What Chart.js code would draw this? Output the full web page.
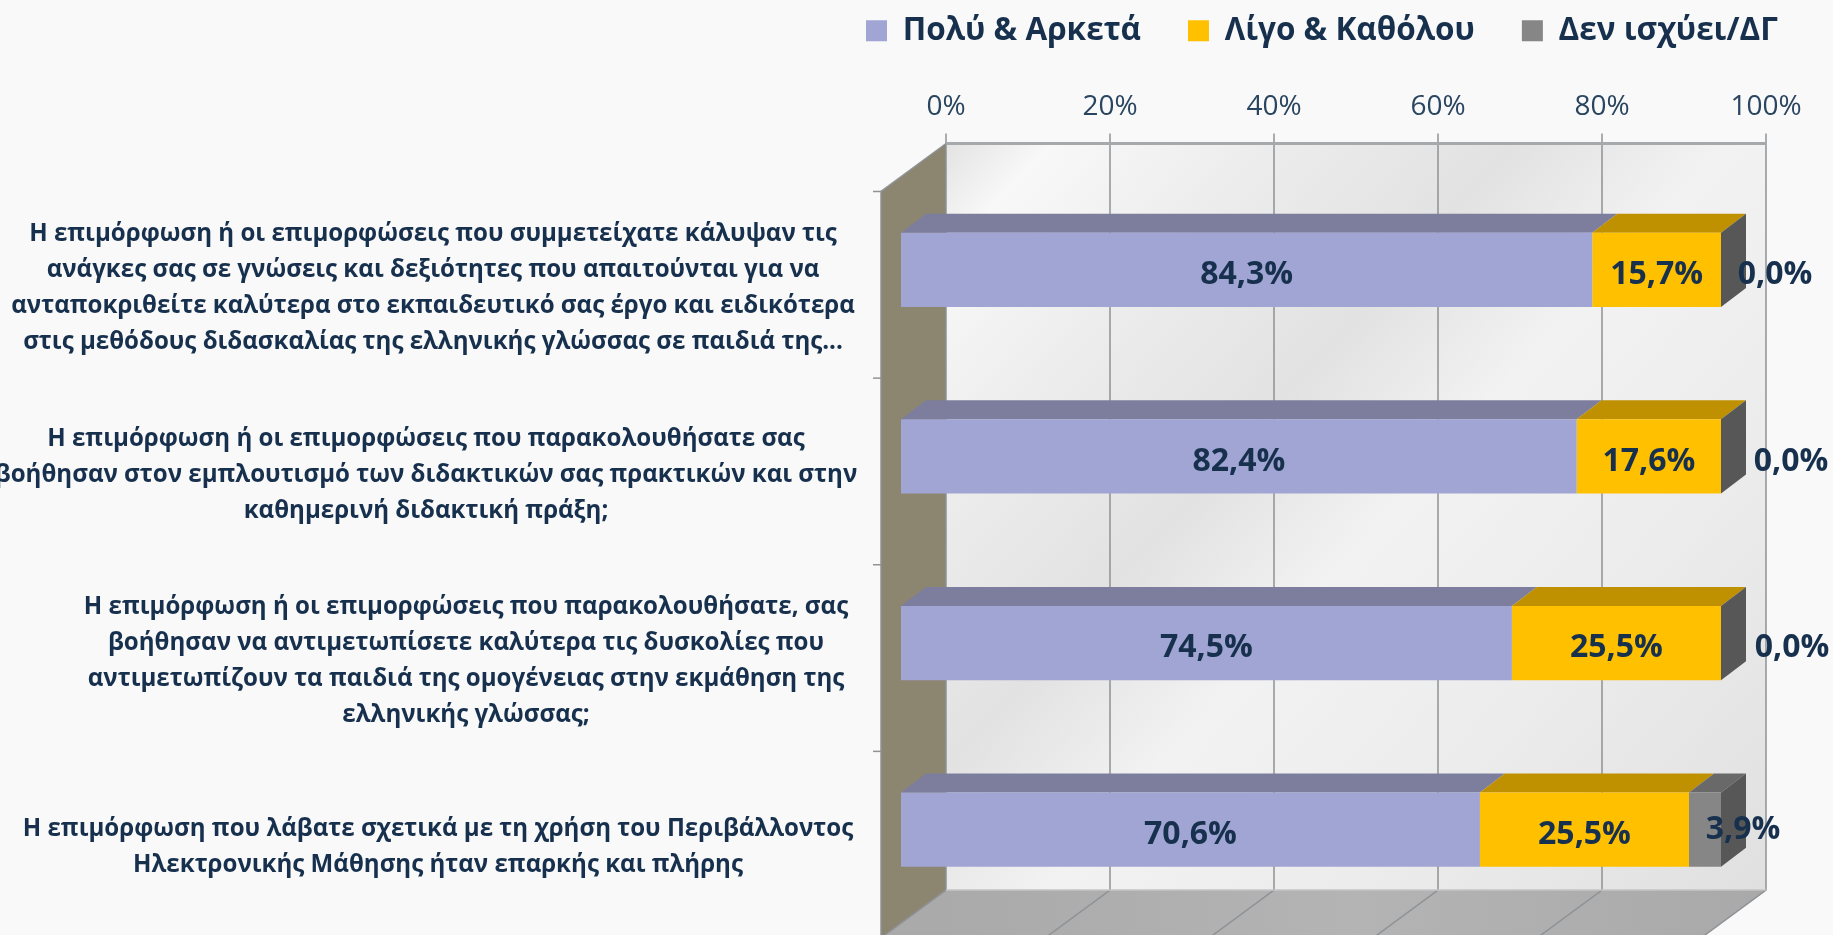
<!DOCTYPE html>
<html lang="el"><head><meta charset="utf-8">
<script src="https://cdn.jsdelivr.net/npm/chart.js@4"></script>
<style>html,body{margin:0;padding:0;background:#f9f9f9;overflow:hidden}canvas{display:block}</style>
</head><body><canvas id="c" width="1833" height="935"></canvas>
<script>
const categories = [
  ["Η επιμόρφωση ή οι επιμορφώσεις που συμμετείχατε κάλυψαν τις","ανάγκες σας σε γνώσεις και δεξιότητες που απαιτούνται για να","ανταποκριθείτε καλύτερα στο εκπαιδευτικό σας έργο και ειδικότερα","στις μεθόδους διδασκαλίας της ελληνικής γλώσσας σε παιδιά της..."],
  ["Η επιμόρφωση ή οι επιμορφώσεις που παρακολουθήσατε σας","βοήθησαν στον εμπλουτισμό των διδακτικών σας πρακτικών και στην","καθημερινή διδακτική πράξη;"],
  ["Η επιμόρφωση ή οι επιμορφώσεις που παρακολουθήσατε, σας","βοήθησαν να αντιμετωπίσετε καλύτερα τις δυσκολίες που","αντιμετωπίζουν τα παιδιά της ομογένειας στην εκμάθηση της","ελληνικής γλώσσας;"]
  ,["Η επιμόρφωση που λάβατε σχετικά με τη χρήση του Περιβάλλοντος","Ηλεκτρονικής Μάθησης ήταν επαρκής και πλήρης"]
];
const seriesNames = ["Πολύ & Αρκετά","Λίγο & Καθόλου","Δεν ισχύει/ΔΓ"];
const muchValues = [84.3,82.4,74.5,70.6];
const littleValues = [15.7,17.6,25.5,25.5];
const naValues = [0,0,0,3.9];

const INK='#17304d', FF="'Open Sans'";
const frontCol=['#a0a5d3','#ffc000','#868686'], topCol=['#7d7e9e','#bf9000','#696969'];
const labelCentreX=[433,426,466,438], labelShiftY=[18,18.5,18.5,17];
const naLabelDx=[54,70,71,38];

const scene={id:'scene',
  afterLayout(ch){const l=ch.legend; l.left=819; l.right=2400;},
  beforeDraw(ch){
    const y=ch.scales.y;
    y.getLabelItems(ch.chartArea).forEach((it,i)=>{
      it.options.translation[0]=labelCentreX[i];
      it.options.translation[1]=y.getPixelForValue(i)+labelShiftY[i];
    });
  },
  beforeDatasetsDraw(ch){
    const c=ch.ctx,{left:L,right:R,top:T,bottom:B}=ch.chartArea,x=ch.scales.x,y=ch.scales.y;
    const bx=45,by=33,fx=20,fy=15,gc='#8f9397';
    const wl=L+bx,wr=R+bx,wt=T-by,wb=B-by;
    c.save();
    const g=c.createLinearGradient(wl,wt,wr,wb);
    [[0,'#e3e3e3'],[.07,'#f8f8f8'],[.22,'#ececec'],[.38,'#e2e2e2'],[.52,'#f2f2f2'],[.72,'#ececec'],[1,'#e0e0e0']].forEach(s=>g.addColorStop(s[0],s[1]));
    c.fillStyle=g;c.fillRect(wl,wt,wr-wl,wb-wt);
    const f=c.createLinearGradient(wl,wb,wr,wb);
    f.addColorStop(0,'#aaaaaa');f.addColorStop(.5,'#b4b4b4');f.addColorStop(1,'#a9a9a9');
    c.fillStyle=f;c.beginPath();c.moveTo(wl,wb);c.lineTo(wr,wb);c.lineTo(R-fx,B+fy);c.lineTo(L-fx,B+fy);c.closePath();c.fill();
    c.fillStyle='#8c8570';c.beginPath();c.moveTo(wl,wt);c.lineTo(L-fx,T+fy);c.lineTo(L-fx,B+fy);c.lineTo(wl,wb);c.closePath();c.fill();
    c.strokeStyle=gc;c.lineWidth=1.5;
    x.ticks.forEach(t=>{const p=x.getPixelForValue(t.value);
      c.beginPath();c.moveTo(p+bx,wt-10);c.lineTo(p+bx,wb);c.lineTo(p-fx,B+fy);c.stroke();});
    c.strokeStyle='#a6a9ac';c.lineWidth=3;c.beginPath();c.moveTo(wl,wt);c.lineTo(wr,wt);c.stroke();
    c.strokeStyle='#c4c4c4';c.lineWidth=1.5;c.beginPath();c.moveTo(wl,wb);c.lineTo(wr,wb);c.stroke();
    c.strokeStyle=gc;c.lineWidth=1.5;c.beginPath();c.moveTo(wl,wt);c.lineTo(L-fx,T+fy);c.lineTo(L-fx,B+fy);c.stroke();
    categories.forEach((_,i)=>{const py=y.getPixelForValue(i-.5)+fy;c.beginPath();c.moveTo(L-fx-8,py);c.lineTo(L-fx,py);c.stroke();});
    const dx=25,dy=19;
    ch.data.datasets.forEach((d,k)=>{
      ch.getDatasetMeta(k).data.forEach(el=>{
        const t=el.y-el.height/2,b=el.y+el.height/2;
        c.fillStyle=topCol[k];c.beginPath();c.moveTo(el.base,t);c.lineTo(el.x,t);c.lineTo(el.x+dx,t-dy);c.lineTo(el.base+dx,t-dy);c.closePath();c.fill();
        if(k===2){c.fillStyle='#575757';c.beginPath();c.moveTo(el.x,t);c.lineTo(el.x+dx,t-dy);c.lineTo(el.x+dx,b-dy);c.lineTo(el.x,b);c.closePath();c.fill();}
      });
    });
    c.restore();
  },
  afterDatasetsDraw(ch){
    const c=ch.ctx;c.save();
    c.font="700 32px "+FF;c.fillStyle=INK;c.textAlign='center';c.textBaseline='middle';
    ch.data.datasets.forEach((d,k)=>{
      ch.getDatasetMeta(k).data.forEach((el,i)=>{
        const mid=(el.x+el.base)/2+(k===2?naLabelDx[i]:0);
        c.fillText(d.data[i].toFixed(1).replace('.',',')+'%',mid,el.y+(k===2&&i===3?0:5));
      });
    });
    c.restore();
  }
};

new Chart(document.getElementById('c'),{
  type:'bar',
  data:{labels:categories,datasets:[muchValues,littleValues,naValues].map((v,k)=>({label:seriesNames[k],data:v,backgroundColor:frontCol[k],borderWidth:0,barPercentage:.398,categoryPercentage:1}))},
  plugins:[scene],
  options:{
    indexAxis:'y',responsive:false,animation:false,
    layout:{padding:{left:0,right:112,top:-32,bottom:12}},
    plugins:{
      tooltip:{enabled:false},
      legend:{position:'top',align:'start',labels:{boxWidth:21,boxHeight:21,padding:47,color:INK,font:{family:FF,size:31.5,weight:'700'}}}
    },
    scales:{
      x:{position:'top',stacked:true,min:0,max:100,
        grid:{display:false},border:{display:false},
        afterFit(s){s.height=120;},
        ticks:{stepSize:20,labelOffset:45,padding:45,maxRotation:0,color:'#2a4560',font:{family:FF,size:28},callback:v=>v+'%'}},
      y:{stacked:true,
        grid:{display:false},border:{display:false},
        afterFit(s){s.width=901;s.paddingTop=0;s.paddingBottom=0;},
        ticks:{autoSkip:false,crossAlign:'center',color:INK,font:{family:FF,size:24.1,weight:'700',lineHeight:36/24.1}}}
    }
  }
});
</script></body></html>
